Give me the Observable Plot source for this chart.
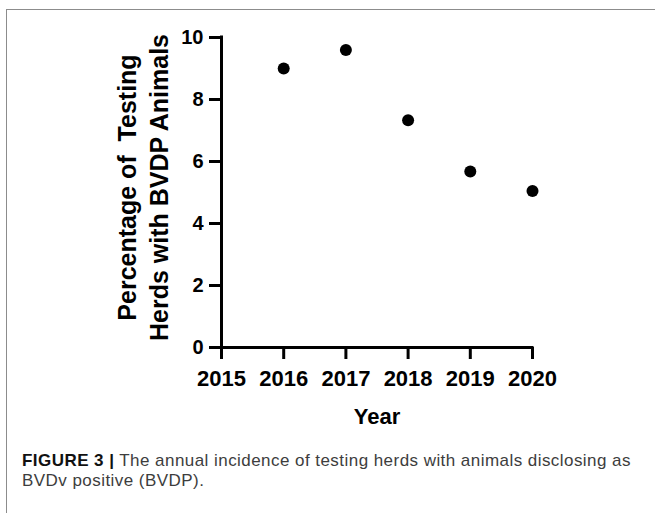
<!DOCTYPE html>
<html>
<head>
<meta charset="utf-8">
<script src="https://cdn.jsdelivr.net/npm/d3@7"></script>
<script src="https://cdn.jsdelivr.net/npm/@observablehq/plot@0.6"></script>
<style>
  html, body { margin: 0; padding: 0; background: #fff; }
  #wrap { position: relative; width: 655px; height: 513px; overflow: hidden; }
  #frame { position: absolute; left: 6px; top: 9px; width: 700px; height: 600px;
           border-left: 1.5px solid #8c8c8c; border-top: 1.5px solid #8c8c8c; }
  #chart { position: absolute; left: 0; top: 0; }
  #caption { position: absolute; left: 22px; top: 451px; white-space: nowrap;
             font-family: "Liberation Sans", Arial, sans-serif; font-size: 17px;
             letter-spacing: 0.45px; line-height: 19.5px; color: #3d3d3d; }
  #caption b { color: #111; }
</style>
</head>
<body>
<div id="wrap">
  <div id="frame"></div>
  <div id="chart"></div>
  <div id="caption"><b>FIGURE 3 |</b> The annual incidence of testing herds with animals disclosing as<br>BVDv positive (BVDP).</div>
</div>
<script>
// Data
const years = [2016, 2017, 2018, 2019, 2020];
const values = [9.0, 9.6, 7.33, 5.68, 5.05];
const xTicks = [2015, 2016, 2017, 2018, 2019, 2020];
const yTicks = [0, 2, 4, 6, 8, 10];
const xTitle = "Year";
const yTitle = "Percentage of  Testing\nHerds with BVDP Animals";

const data = years.map((year, i) => ({year, value: values[i]}));

const chart = Plot.plot({
  width: 655,
  height: 430,
  marginLeft: 221,
  marginRight: 123,
  marginTop: 37,
  marginBottom: 83,
  style: {
    fontFamily: "'Liberation Sans', Arial, sans-serif",
    fontWeight: "bold",
    color: "black",
    background: "transparent",
    overflow: "visible"
  },
  x: {domain: [2015, 2020]},
  y: {domain: [0, 10]},
  marks: [
    Plot.axisY({ticks: yTicks, tickSize: 12, tickPadding: 6, strokeWidth: 3, fontSize: 20, label: null}),
    Plot.axisX({ticks: xTicks, tickSize: 12, tickPadding: 11, strokeWidth: 3, fontSize: 22,
                tickFormat: d => String(d), label: null}),
    Plot.ruleX([2015], {strokeWidth: 3, strokeLinecap: "square"}),
    Plot.ruleY([0], {strokeWidth: 3, strokeLinecap: "square"}),
    Plot.dot(data, {x: "year", y: "value", r: 6, fill: "black", stroke: null}),
    Plot.text([yTitle], {text: d => d, frameAnchor: "left", textAnchor: "middle", rotate: -90,
                         dx: -80, dy: -5, fontSize: 25, lineHeight: 1.31, fontWeight: "bold"}),
    Plot.text([xTitle], {text: d => d, frameAnchor: "bottom", dy: 76, fontSize: 22, fontWeight: "bold"})
  ]
});
document.getElementById("chart").appendChild(chart);
</script>
</body>
</html>
